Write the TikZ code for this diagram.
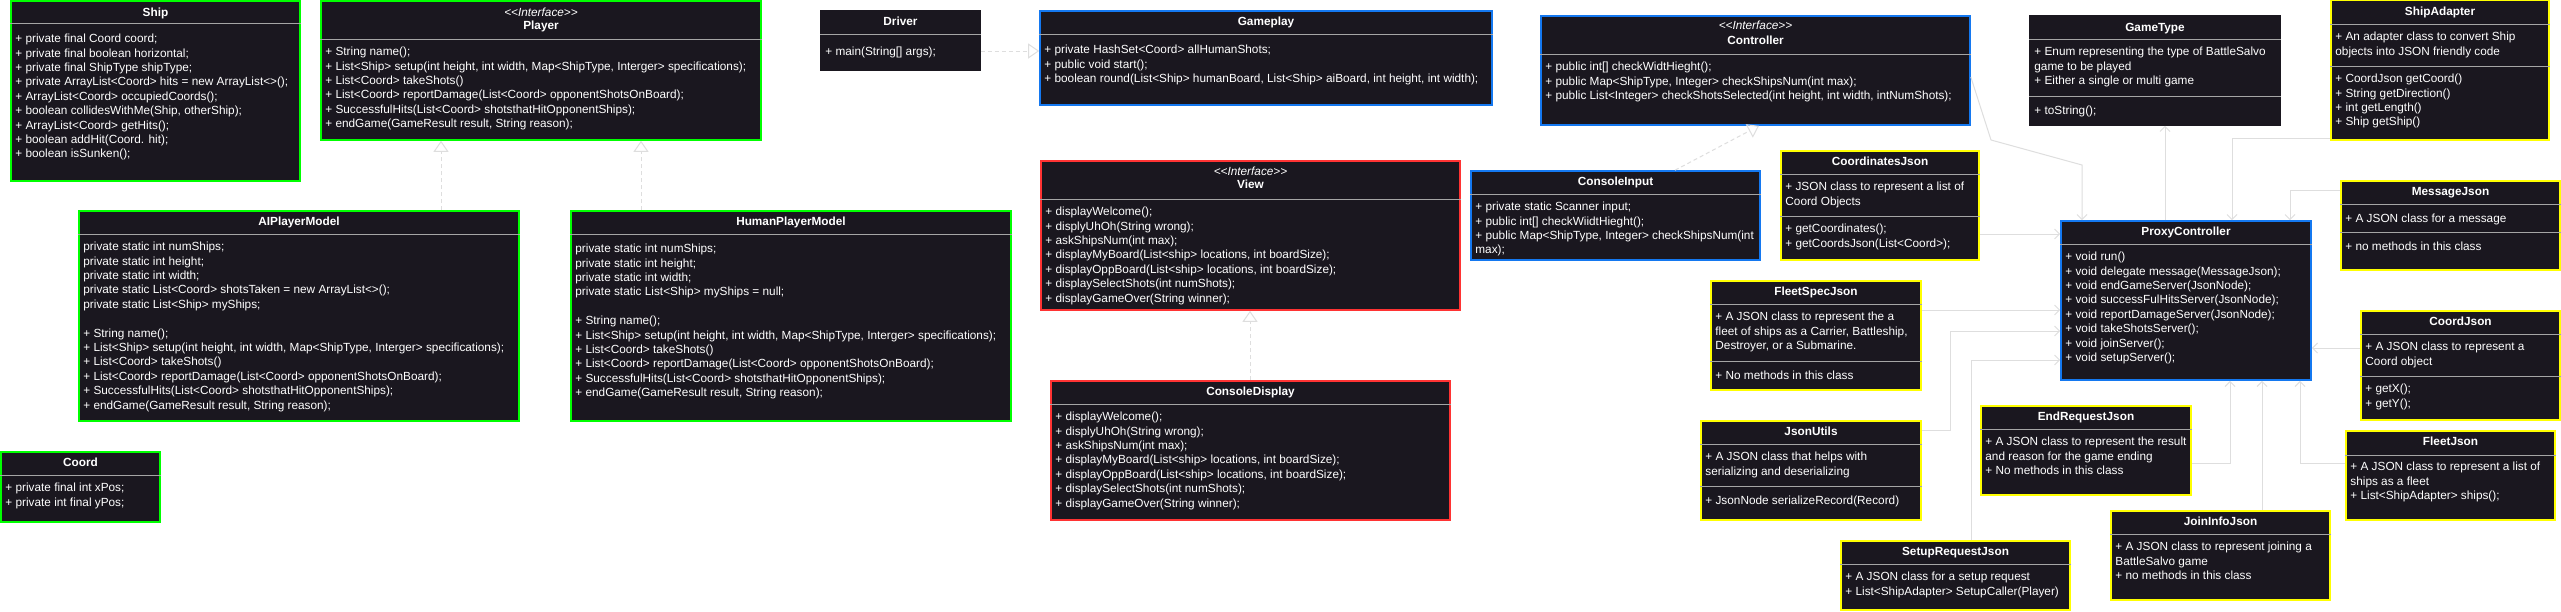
\documentclass[tikz,border=0pt]{standalone}
\usepackage{fontspec}
\setmainfont{Liberation Sans}
\usepackage{xcolor}
\usepackage{tikz}
\usetikzlibrary{arrows.meta, positioning, calc, fit}
\definecolor{umlbg}{RGB}{26,23,31}
\definecolor{umlgreen}{RGB}{0,255,0}
\definecolor{umlblue}{RGB}{20,120,240}
\definecolor{umlred}{RGB}{255,51,51}
\definecolor{umlyellow}{RGB}{255,255,0}
\definecolor{sepgray}{RGB}{165,165,165}
\definecolor{linkgray}{RGB}{222,222,222}

\begin{document}
\begin{tikzpicture}[x=1pt, y=-1pt, font=\fontsize{11.8}{14.4}\selectfont,
  cls/.style={draw, fill=umlbg, line width=1.6pt, inner sep=0pt},
  ttl/.style={anchor=base, text=white, font=\fontsize{11.8}{14.4}\selectfont\bfseries, inner sep=0pt},
  ster/.style={anchor=base, text=white, font=\fontsize{11.8}{14.4}\selectfont\itshape, inner sep=0pt},
  txt/.style={anchor=north west, xshift=5pt, align=left, text=white, inner sep=0pt, execute at begin node=\strut},
  sepl/.style={draw=sepgray, line width=0.8pt},
  real/.style={draw=linkgray, line width=1pt, dash pattern=on 4pt off 3pt, -{Triangle[open, length=11pt, width=15pt]}},
  assoc/.style={draw=linkgray, line width=1pt, -{Straight Barb[length=5pt, width=10pt]}}]
  \fill[white] (0,0) rectangle (2561,611);
  \useasboundingbox (0,0) rectangle (2561,611);
  % ---- player side (green) ----
  \node[cls, draw=umlgreen, fit={(11,1) (300,181)}] (ship) {};
  \node[ttl] (ship-t) at (ship.north |- 0,16) {Ship};
  \draw[sepl] (ship.west |- 0,23) -- (ship.east |- 0,23);
  \node[txt] (ship-b) at (ship.west |- 0,34) {+ private final Coord coord;\\+ private final boolean horizontal;\\+ private final ShipType shipType;\\+ private ArrayList<Coord> hits = new ArrayList<>();\\+ ArrayList<Coord> occupiedCoords();\\+ boolean collidesWithMe(Ship, otherShip);\\+ ArrayList<Coord> getHits();\\+ boolean addHit(Coord. hit);\\+ boolean isSunken();};

  \node[cls, draw=umlgreen, fit={(321,1) (761,140)}] (player) {};
  \node[ster] (player-s) at (player.north |- 0,16) {<{}<Interface>{}>};
  \node[ttl] (player-t) at (player.north |- 0,29) {Player};
  \draw[sepl] (player.west |- 0,39) -- (player.east |- 0,39);
  \node[txt] (player-b) at (player.west |- 0,47) {+ String name();\\+ List<Ship> setup(int height, int width, Map<ShipType, Interger> specifications);\\+ List<Coord> takeShots()\\+ List<Coord> reportDamage(List<Coord> opponentShotsOnBoard);\\+ SuccessfulHits(List<Coord> shotsthatHitOpponentShips);\\+ endGame(GameResult result, String reason);};

  \node[cls, draw=umlgreen, fit={(79,211) (519,421)}] (ai) {};
  \node[ttl] (ai-t) at (ai.north |- 0,225) {AIPlayerModel};
  \draw[sepl] (ai.west |- 0,234) -- (ai.east |- 0,234);
  \node[txt] (ai-b) at (ai.west |- 0,242) {private static int numShips;\\private static int height;\\private static int width;\\private static List<Coord> shotsTaken = new ArrayList<>();\\private static List<Ship> myShips;\\[14.4pt]+ String name();\\+ List<Ship> setup(int height, int width, Map<ShipType, Interger> specifications);\\+ List<Coord> takeShots()\\+ List<Coord> reportDamage(List<Coord> opponentShotsOnBoard);\\+ SuccessfulHits(List<Coord> shotsthatHitOpponentShips);\\+ endGame(GameResult result, String reason);};

  \node[cls, draw=umlgreen, fit={(571,211) (1011,421)}] (human) {};
  \node[ttl] (human-t) at (human.north |- 0,225) {HumanPlayerModel};
  \draw[sepl] (human.west |- 0,234) -- (human.east |- 0,234);
  \node[txt] (human-b) at (human.west |- 0,244) {private static int numShips;\\private static int height;\\private static int width;\\private static List<Ship> myShips = null;\\[14.4pt]+ String name();\\+ List<Ship> setup(int height, int width, Map<ShipType, Interger> specifications);\\+ List<Coord> takeShots()\\+ List<Coord> reportDamage(List<Coord> opponentShotsOnBoard);\\+ SuccessfulHits(List<Coord> shotsthatHitOpponentShips);\\+ endGame(GameResult result, String reason);};

  \node[cls, draw=umlgreen, fit={(1,452) (160,522)}] (coord) {};
  \node[ttl] (coord-t) at (coord.north |- 0,466) {Coord};
  \draw[sepl] (coord.west |- 0,475) -- (coord.east |- 0,475);
  \node[txt] (coord-b) at (coord.west |- 0,483) {+ private final int xPos;\\+ private int final yPos;};
  % ---- driver, game loop, controller (blue) ----
  \node[cls, draw=umlbg, fit={(821,11) (980,70)}] (driver) {};
  \node[ttl] (driver-t) at (driver.north |- 0,25) {Driver};
  \draw[sepl] (driver.west |- 0,34) -- (driver.east |- 0,34);
  \node[txt] (driver-b) at (driver.west |- 0,45) {+ main(String[] args);};

  \node[cls, draw=umlblue, fit={(1040,11) (1492,105)}] (game) {};
  \node[ttl] (game-t) at (game.north |- 0,25) {Gameplay};
  \draw[sepl] (game.west |- 0,34) -- (game.east |- 0,34);
  \node[txt] (game-b) at (game.west |- 0,45) {+ private HashSet<Coord> allHumanShots;\\+ public void start();\\+ boolean round(List<Ship> humanBoard, List<Ship> aiBoard, int height, int width);};

  \node[cls, draw=umlblue, fit={(1541,16) (1970,125)}] (ctrl) {};
  \node[ster] (ctrl-s) at (ctrl.north |- 0,29) {<{}<Interface>{}>};
  \node[ttl] (ctrl-t) at (ctrl.north |- 0,44) {Controller};
  \draw[sepl] (ctrl.west |- 0,54) -- (ctrl.east |- 0,54);
  \node[txt] (ctrl-b) at (ctrl.west |- 0,62) {+ public int[] checkWidtHieght();\\+ public Map<ShipType, Integer> checkShipsNum(int max);\\+ public List<Integer> checkShotsSelected(int height, int width, intNumShots);};

  \node[cls, draw=umlblue, fit={(1471,171) (1760,260)}] (cin) {};
  \node[ttl] (cin-t) at (cin.north |- 0,185) {ConsoleInput};
  \draw[sepl] (cin.west |- 0,194) -- (cin.east |- 0,194);
  \node[txt] (cin-b) at (cin.west |- 0,202) {+ private static Scanner input;\\+ public int[] checkWiidtHieght();\\+ public Map<ShipType, Integer> checkShipsNum(int\\max);};

  \node[cls, draw=umlblue, fit={(2061,221) (2311,380)}] (proxy) {};
  \node[ttl] (proxy-t) at (proxy.north |- 0,235) {ProxyController};
  \draw[sepl] (proxy.west |- 0,244) -- (proxy.east |- 0,244);
  \node[txt] (proxy-b) at (proxy.west |- 0,252) {+ void run()\\+ void delegate message(MessageJson);\\+ void endGameServer(JsonNode);\\+ void successFulHitsServer(JsonNode);\\+ void reportDamageServer(JsonNode);\\+ void takeShotsServer();\\+ void joinServer();\\+ void setupServer();};

  \node[cls, draw=umlbg, fit={(2030,16) (2280,125)}] (gtype) {};
  \node[ttl] (gtype-t) at (gtype.north |- 0,31) {GameType};
  \draw[sepl] (gtype.west |- 0,39) -- (gtype.east |- 0,39);
  \node[txt] (gtype-b) at (gtype.west |- 0,47) {+ Enum representing the type of BattleSalvo\\game to be played\\+ Either a single or multi game};
  \draw[sepl] (gtype.west |- 0,96) -- (gtype.east |- 0,96);
  \node[txt] (gtype-m) at (gtype.west |- 0,104) {+ toString();};
  % ---- view (red) ----
  \node[cls, draw=umlred, fit={(1041,161) (1460,310)}] (view) {};
  \node[ster] (view-s) at (view.north |- 0,175) {<{}<Interface>{}>};
  \node[ttl] (view-t) at (view.north |- 0,188) {View};
  \draw[sepl] (view.west |- 0,199) -- (view.east |- 0,199);
  \node[txt] (view-b) at (view.west |- 0,207) {+ displayWelcome();\\+ displyUhOh(String wrong);\\+ askShipsNum(int max);\\+ displayMyBoard(List<ship> locations, int boardSize);\\+ displayOppBoard(List<ship> locations, int boardSize);\\+ displaySelectShots(int numShots);\\+ displayGameOver(String winner);};

  \node[cls, draw=umlred, fit={(1051,381) (1450,520)}] (cdisp) {};
  \node[ttl] (cdisp-t) at (cdisp.north |- 0,395) {ConsoleDisplay};
  \draw[sepl] (cdisp.west |- 0,404) -- (cdisp.east |- 0,404);
  \node[txt] (cdisp-b) at (cdisp.west |- 0,412) {+ displayWelcome();\\+ displyUhOh(String wrong);\\+ askShipsNum(int max);\\+ displayMyBoard(List<ship> locations, int boardSize);\\+ displayOppBoard(List<ship> locations, int boardSize);\\+ displaySelectShots(int numShots);\\+ displayGameOver(String winner);};
  % ---- json records (yellow) ----
  \node[cls, draw=umlyellow, fit={(2331,0) (2549,140)}] (sadapt) {};
  \node[ttl] (sadapt-t) at (sadapt.north |- 0,15) {ShipAdapter};
  \draw[sepl] (sadapt.west |- 0,24) -- (sadapt.east |- 0,24);
  \node[txt] (sadapt-b) at (sadapt.west |- 0,32) {+ An adapter class to convert Ship\\objects into JSON friendly code};
  \draw[sepl] (sadapt.west |- 0,66) -- (sadapt.east |- 0,66);
  \node[txt] (sadapt-m) at (sadapt.west |- 0,74) {+ CoordJson getCoord()\\+ String getDirection()\\+ int getLength()\\+ Ship getShip()};

  \node[cls, draw=umlyellow, fit={(1781,151) (1979,260)}] (coords) {};
  \node[ttl] (coords-t) at (coords.north |- 0,165) {CoordinatesJson};
  \draw[sepl] (coords.west |- 0,174) -- (coords.east |- 0,174);
  \node[txt] (coords-b) at (coords.west |- 0,182) {+ JSON class to represent a list of\\Coord Objects};
  \draw[sepl] (coords.west |- 0,216) -- (coords.east |- 0,216);
  \node[txt] (coords-m) at (coords.west |- 0,224) {+ getCoordinates();\\+ getCoordsJson(List<Coord>);};

  \node[cls, draw=umlyellow, fit={(1711,281) (1921,390)}] (fspec) {};
  \node[ttl] (fspec-t) at (fspec.north |- 0,295) {FleetSpecJson};
  \draw[sepl] (fspec.west |- 0,304) -- (fspec.east |- 0,304);
  \node[txt] (fspec-b) at (fspec.west |- 0,312) {+ A JSON class to represent the a\\fleet of ships as a Carrier, Battleship,\\Destroyer, or a Submarine.};
  \draw[sepl] (fspec.west |- 0,361) -- (fspec.east |- 0,361);
  \node[txt] (fspec-m) at (fspec.west |- 0,369) {+ No methods in this class};

  \node[cls, draw=umlyellow, fit={(1701,421) (1921,520)}] (jutil) {};
  \node[ttl] (jutil-t) at (jutil.north |- 0,435) {JsonUtils};
  \draw[sepl] (jutil.west |- 0,444) -- (jutil.east |- 0,444);
  \node[txt] (jutil-b) at (jutil.west |- 0,452) {+ A JSON class that helps with\\serializing and deserializing};
  \draw[sepl] (jutil.west |- 0,486) -- (jutil.east |- 0,486);
  \node[txt] (jutil-m) at (jutil.west |- 0,494) {+ JsonNode serializeRecord(Record)};

  \node[cls, draw=umlyellow, fit={(1981,406) (2191,495)}] (endreq) {};
  \node[ttl] (endreq-t) at (endreq.north |- 0,420) {EndRequestJson};
  \draw[sepl] (endreq.west |- 0,429) -- (endreq.east |- 0,429);
  \node[txt] (endreq-b) at (endreq.west |- 0,437) {+ A JSON class to represent the result\\and reason for the game ending\\+ No methods in this class};

  \node[cls, draw=umlyellow, fit={(1841,541) (2070,610)}] (setreq) {};
  \node[ttl] (setreq-t) at (setreq.north |- 0,555) {SetupRequestJson};
  \draw[sepl] (setreq.west |- 0,564) -- (setreq.east |- 0,564);
  \node[txt] (setreq-b) at (setreq.west |- 0,572) {+ A JSON class for a setup request\\+ List<ShipAdapter> SetupCaller(Player)};

  \node[cls, draw=umlyellow, fit={(2111,511) (2330,600)}] (join) {};
  \node[ttl] (join-t) at (join.north |- 0,525) {JoinInfoJson};
  \draw[sepl] (join.west |- 0,534) -- (join.east |- 0,534);
  \node[txt] (join-b) at (join.west |- 0,542) {+ A JSON class to represent joining a\\BattleSalvo game\\+ no methods in this class};

  \node[cls, draw=umlyellow, fit={(2341,181) (2560,270)}] (msg) {};
  \node[ttl] (msg-t) at (msg.north |- 0,195) {MessageJson};
  \draw[sepl] (msg.west |- 0,204) -- (msg.east |- 0,204);
  \node[txt] (msg-b) at (msg.west |- 0,212) {+ A JSON class for a message};
  \draw[sepl] (msg.west |- 0,232) -- (msg.east |- 0,232);
  \node[txt] (msg-m) at (msg.west |- 0,240) {+ no methods in this class};

  \node[cls, draw=umlyellow, fit={(2361,311) (2560,420)}] (cjson) {};
  \node[ttl] (cjson-t) at (cjson.north |- 0,325) {CoordJson};
  \draw[sepl] (cjson.west |- 0,334) -- (cjson.east |- 0,334);
  \node[txt] (cjson-b) at (cjson.west |- 0,342) {+ A JSON class to represent a\\Coord object};
  \draw[sepl] (cjson.west |- 0,376) -- (cjson.east |- 0,376);
  \node[txt] (cjson-m) at (cjson.west |- 0,384) {+ getX();\\+ getY();};

  \node[cls, draw=umlyellow, fit={(2346,431) (2555,520)}] (fleet) {};
  \node[ttl] (fleet-t) at (fleet.north |- 0,445) {FleetJson};
  \draw[sepl] (fleet.west |- 0,455) -- (fleet.east |- 0,455);
  \node[txt] (fleet-b) at (fleet.west |- 0,462) {+ A JSON class to represent a list of\\ships as a fleet\\+ List<ShipAdapter> ships();};
  % ---- realizations ----
  \draw[real] (ai.north -| 441,0) -- (player.south -| 441,0);
  \draw[real] (human.north -| 641,0) -- (player.south -| 641,0);
  \draw[real] (cdisp.north -| 1250,0) -- (view.south -| 1250,0);
  \draw[real] (cin.north -| 1675,0) -- (ctrl.south -| 1759,0);
  \draw[real] (driver.east |- 0,51) -- (game.west |- 0,51);
  % ---- proxy links ----
  \draw[assoc] (ctrl.east |- 0,77) -- (1991,140) -- (2082,165) -- (proxy.north -| 2082,0);
  \draw[assoc] (proxy.north -| 2165,0) -- (gtype.south -| 2165,0);
  \draw[assoc] (sadapt.west |- 0,138) -| (proxy.north -| 2232,0);
  \draw[assoc] (msg.west |- 0,190) -| (proxy.north -| 2290,0);
  \draw[assoc] (coords.east |- 0,234) -- (proxy.west |- 0,234);
  \draw[assoc] (fspec.east |- 0,310) -- (proxy.west |- 0,310);
  \draw[assoc] (jutil.east |- 0,430) -- (1950,430) |- (proxy.west |- 0,331);
  \draw[assoc] (setreq.north -| 1971,0) |- (proxy.west |- 0,360);
  \draw[assoc] (endreq.east |- 0,463) -| (proxy.south -| 2230,0);
  \draw[assoc] (join.north -| 2262,0) -- (proxy.south -| 2262,0);
  \draw[assoc] (fleet.west |- 0,463) -| (proxy.south -| 2300,0);
  \draw[assoc] (cjson.west |- 0,348) -- (proxy.east |- 0,348);
\end{tikzpicture}
\end{document}
